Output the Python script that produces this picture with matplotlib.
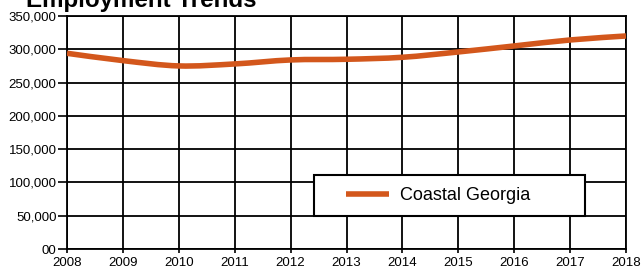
import numpy as np
import matplotlib.pyplot as plt
import matplotlib
from matplotlib.patches import Rectangle, PathPatch
from matplotlib.path import Path
from matplotlib.lines import Line2D

matplotlib.rcParams['font.family'] = ['Liberation Sans', 'DejaVu Sans']

# data
years = [2008, 2009, 2010, 2011, 2012, 2013, 2014, 2015, 2016, 2017, 2018]
employment = [294000, 283000, 275000, 278000, 284000, 285000, 288000, 296000, 305000, 314000, 320000]
y_ticks = [0, 50000, 100000, 150000, 200000, 250000, 300000, 350000]
y_labels = ['00', '50,000', '100,000', '150,000', '200,000', '250,000', '300,000', '350,000']
series_name = 'Coastal Georgia'
line_color = '#D3571C'

W, H = 641, 273
fig = plt.figure(figsize=(W / 100, H / 100), dpi=100)
ax = fig.add_axes([67 / W, 1 - 249 / H, 559 / W, 233 / H])

# smooth line through the points (cardinal spline as bezier segments)
x = np.array(years, dtype=float)
y = np.array(employment, dtype=float)
verts = [(x[0], y[0])]
codes = [Path.MOVETO]
t = 1 / 6
for i in range(len(x) - 1):
    p0 = (x[i - 1], y[i - 1]) if i > 0 else (x[i], y[i])
    p3 = (x[i + 2], y[i + 2]) if i + 2 < len(x) else (x[i + 1], y[i + 1])
    c1 = (x[i] + (x[i + 1] - p0[0]) * t, y[i] + (y[i + 1] - p0[1]) * t)
    c2 = (x[i + 1] - (p3[0] - x[i]) * t, y[i + 1] - (p3[1] - y[i]) * t)
    verts += [c1, c2, (x[i + 1], y[i + 1])]
    codes += [Path.CURVE4] * 3
ax.add_patch(PathPatch(Path(verts, codes), facecolor='none', edgecolor=line_color,
                       linewidth=4, capstyle='butt', zorder=3))

ax.set_xlim(years[0], years[-1])
ax.set_ylim(0, 350000)
ax.set_xticks(years)
ax.set_yticks(y_ticks)
ax.set_yticklabels(y_labels)
ax.grid(True, color='black', linewidth=1.3)
ax.set_axisbelow(True)
for s in ax.spines.values():
    s.set_linewidth(1.3)
ax.tick_params(axis='y', direction='out', length=6.5, width=1.2, labelsize=9.5, pad=1)
ax.tick_params(axis='x', direction='out', length=3, width=1.2, labelsize=9.5, pad=3)

# legend box (pixel positions from the reference)
x0, x1 = (314 - 67) / 559, (585 - 67) / 559
y0, y1 = (249 - 216) / 233, (249 - 175) / 233
ax.add_patch(Rectangle((x0, y0), x1 - x0, y1 - y0, transform=ax.transAxes,
                       facecolor='white', edgecolor='black', linewidth=1.5, zorder=4))
handle = Line2D([], [], color=line_color, linewidth=4, solid_capstyle='butt')
leg = ax.legend([handle], [series_name], loc='center left',
                bbox_to_anchor=((346 - 67) / 559, (y0 + y1) / 2),
                frameon=False, fontsize=13, handlelength=2.4, borderpad=0,
                borderaxespad=0, handletextpad=0.6)
leg.set_zorder(5)

fig.text(26 / W, 1 - 7 / H, 'Employment Trends', fontsize=17.4, fontweight='bold',
         ha='left', va='baseline')

fig.savefig('out.png', dpi=100)
